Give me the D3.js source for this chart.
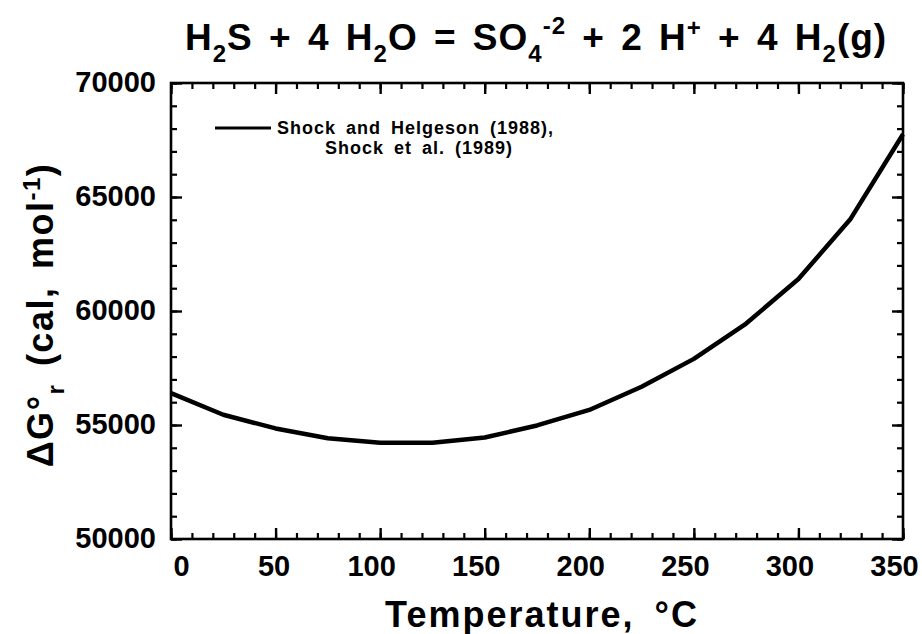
<!DOCTYPE html>
<html>
<head>
<meta charset="utf-8">
<script src="https://cdn.jsdelivr.net/npm/d3@7"></script>
<style>
  body { margin: 0; background: #fff; }
  text { font-family: "Liberation Sans", Arial, sans-serif; font-weight: bold; fill: #000; }
</style>
</head>
<body>
<svg id="chart" width="922" height="634"></svg>
<script>
// values
var temps = [0, 25, 50, 75, 100, 125, 150, 175, 200, 225, 250, 275, 300, 325, 350];
var dG = [56400, 55450, 54850, 54420, 54220, 54220, 54450, 54980, 55660, 56680, 57900, 59450, 61400, 64050, 67750];
var xTicks = [0, 50, 100, 150, 200, 250, 300, 350];
var yTicks = [50000, 55000, 60000, 65000, 70000];
var legendLines = ["Shock and Helgeson (1988),", "Shock et al. (1989)"];

var svg = d3.select("#chart");
var L = 171, R = 903, T = 83, B = 539;

var x = d3.scaleLinear().domain([0, 350]).range([L, R]);
var y = d3.scaleLinear().domain([50000, 70000]).range([B, T]);

var xMinor = d3.range(0, 351, 10);
var yMinor = d3.range(50000, 70001, 1000);

// minor ticks, all four sides, pointing in
function minorAxis(axis, scale, vals, tr) {
    svg.append("g")
        .attr("transform", tr)
        .call(axis(scale).tickValues(vals).tickSize(-6).tickFormat(""))
        .call(g => g.select(".domain").remove())
        .selectAll("line").attr("stroke-width", 2.2);
}
minorAxis(d3.axisBottom, x, xMinor, "translate(0," + B + ")");
minorAxis(d3.axisTop, x, xMinor, "translate(0," + T + ")");
minorAxis(d3.axisLeft, y, yMinor, "translate(" + L + ",0)");
minorAxis(d3.axisRight, y, yMinor, "translate(" + R + ",0)");

// major ticks
function majorAxis(axis, scale, vals, tr, labels) {
    var g = svg.append("g")
        .attr("transform", tr)
        .call(axis(scale).tickValues(vals).tickSize(-11)
            .tickFormat(labels ? d3.format("d") : ""));
    g.select(".domain").remove();
    g.selectAll("line").attr("stroke-width", 2.4);
    g.selectAll("text").style("font-size", "29px");
    return g;
}
// the printed x labels sit a little left of their ticks, except the first two
var xShift = { 0: 10, 50: -2 };
var gx = majorAxis(d3.axisBottom, x, xTicks, "translate(0," + B + ")", true);
gx.selectAll("text")
    .attr("y", 16)
    .attr("dy", "0.71em")
    .attr("dx", d => (d in xShift) ? xShift[d] : -9);
majorAxis(d3.axisTop, x, xTicks, "translate(0," + T + ")", false);
var gy = majorAxis(d3.axisLeft, y, yTicks, "translate(" + L + ",0)", true);
gy.selectAll("text").attr("x", -15).attr("dy", "0.3em");
majorAxis(d3.axisRight, y, yTicks, "translate(" + R + ",0)", false);

// frame
svg.append("rect")
    .attr("x", L).attr("y", T)
    .attr("width", R - L).attr("height", B - T)
    .attr("fill", "none")
    .attr("stroke", "#000")
    .attr("stroke-width", 2.6);

// curve
var line = d3.line()
    .x((d, i) => x(temps[i]))
    .y(d => y(d));

svg.append("path")
    .datum(dG)
    .attr("d", line)
    .attr("fill", "none")
    .attr("stroke", "#000")
    .attr("stroke-width", 4.5)
    .attr("stroke-linejoin", "round");

// legend
svg.append("line")
    .attr("x1", 215).attr("x2", 271)
    .attr("y1", 128).attr("y2", 128)
    .attr("stroke", "#000").attr("stroke-width", 3);

svg.append("text")
    .attr("x", 277).attr("y", 134)
    .style("font-size", "18px")
    .style("letter-spacing", "1px")
    .style("word-spacing", "4px")
    .text(legendLines[0]);
svg.append("text")
    .attr("x", 325).attr("y", 154)
    .style("font-size", "18px")
    .style("letter-spacing", "1px")
    .style("word-spacing", "4px")
    .text(legendLines[1]);

// title
var title = svg.append("text")
    .attr("x", 185).attr("y", 50)
    .style("font-size", "37px")
    .style("letter-spacing", "1px")
    .style("word-spacing", "5px");
function part(t, dy, size) {
    var s = title.append("tspan").text(t);
    if (dy) s.attr("dy", dy);
    if (size) s.style("font-size", size);
    return s;
}
part("H");
part("2", 12, "24px");
part("S + 4 H", -12);
part("2", 12, "24px");
part("O = SO", -12);
part("4", 12, "24px");
part("-2", -28, "24px");
part(" + 2 H", 16);
part("+", -14, "24px");
part(" + 4 H", 14);
part("2", 12, "24px");
part("(g)", -12);

// axis titles
svg.append("text")
    .attr("x", 542).attr("y", 627)
    .attr("text-anchor", "middle")
    .style("font-size", "36px")
    .style("letter-spacing", "2px")
    .style("word-spacing", "8px")
    .text("Temperature, °C");

var yt = svg.append("text")
    .attr("transform", "translate(53,315) rotate(-90)")
    .attr("text-anchor", "middle")
    .style("font-size", "36px")
    .style("letter-spacing", "1.5px");
yt.append("tspan").text("ΔG°");
yt.append("tspan").text("r").attr("dy", 11).style("font-size", "24px");
yt.append("tspan").text("  (cal, mol").attr("dy", -11).style("word-spacing", "6px");
yt.append("tspan").text("-1").attr("dy", -13).style("font-size", "24px");
yt.append("tspan").text(")").attr("dy", 13);
</script>
</body>
</html>
